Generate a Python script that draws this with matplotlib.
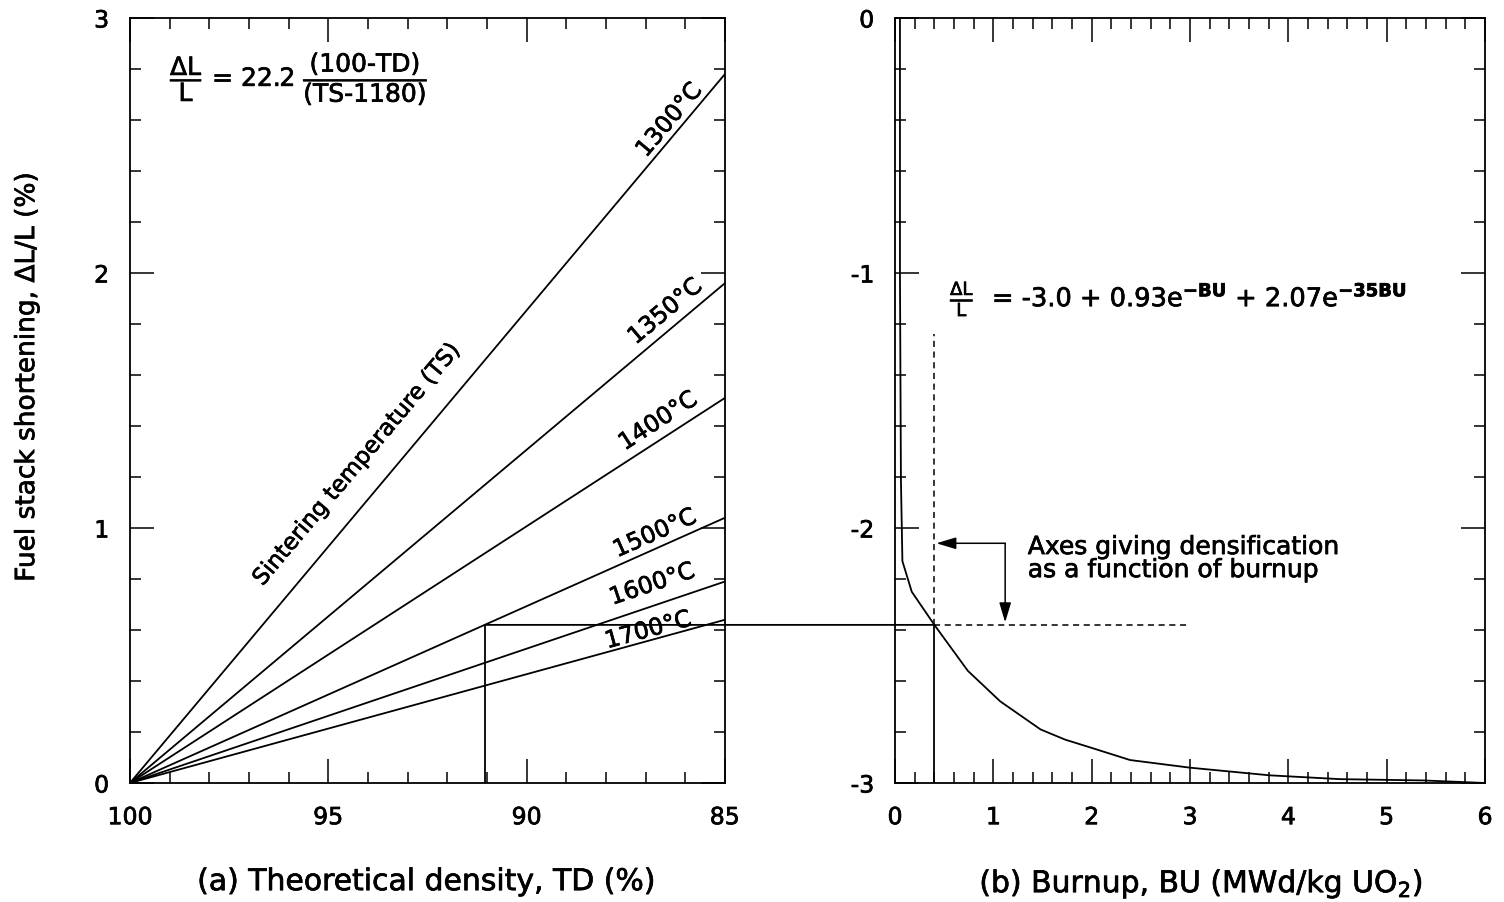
import matplotlib
matplotlib.use("Agg")
import matplotlib.pyplot as plt
import matplotlib.patheffects as pe
from matplotlib.patches import ConnectionPatch
from matplotlib.text import Text
from matplotlib.ticker import MultipleLocator

plt.rcParams['font.family'] = ['DejaVu Sans']
plt.rcParams['mathtext.fontset'] = 'dejavusans'
plt.rcParams['axes.unicode_minus'] = False

# (a) densification vs theoretical density, one straight line per sintering temperature
td_range = [100, 85]
sinter_temps = [1300, 1350, 1400, 1500, 1600, 1700]
shortening_at_85 = [2.78, 1.96, 1.51, 1.04, 0.79, 0.64]

# (b) densification vs burnup
burnup = [0.05, 0.05, 0.06, 0.075, 0.17, 0.40, 0.74, 1.07, 1.48, 1.73, 1.98, 2.39,
          3.0, 3.81, 4.53, 5.37, 6.0]
dl_burnup = [0.0, -1.0, -1.81, -2.13, -2.25, -2.38, -2.56, -2.68, -2.79, -2.83, -2.86,
             -2.91, -2.94, -2.97, -2.985, -2.99, -3.0]

# worked example read across both panels
td_example = 91.05
dl_example = 0.62
bu_example = 0.40
dl_bu_example = -2.38

fig = plt.figure(figsize=(15.04, 9.03), dpi=100)
ax1 = fig.add_axes([0.0864, 0.1318, 0.3956, 0.8472])
ax2 = fig.add_axes([0.5951, 0.1318, 0.3923, 0.8472])

lw = 1.3
for ax in (ax1, ax2):
    for s in ax.spines.values():
        s.set_linewidth(lw)
    ax.tick_params(which='both', direction='in', top=True, right=True,
                   width=1.1, labelsize=17)
    ax.tick_params(which='major', length=17)
    ax.tick_params(which='minor', length=8)
    ax.tick_params(axis='x', pad=16)
    ax.tick_params(axis='y', pad=15)

# panel (a)
for t, end in zip(sinter_temps, shortening_at_85):
    ax1.plot(td_range, [0, end], color='black', lw=lw, solid_capstyle='butt')

ax1.set_xlim(100, 85)
ax1.set_ylim(0, 3)
ax1.xaxis.set_major_locator(MultipleLocator(5))
ax1.xaxis.set_minor_locator(MultipleLocator(1))
ax1.yaxis.set_major_locator(MultipleLocator(1))
ax1.yaxis.set_minor_locator(MultipleLocator(0.2))

# label centres and angles along each line
label_pos = [(86.41, 2.60, 50), (86.51, 1.85, 40), (86.69, 1.42, 33),
             (86.77, 0.98, 24), (86.84, 0.78, 18.7), (86.94, 0.60, 15.3)]
for t, (x, y, rot) in zip(sinter_temps, label_pos):
    ax1.text(x, y, f'{t}°C', rotation=rot, rotation_mode='anchor',
             ha='center', va='center', fontsize=17)
ax1.text(94.28, 1.25, 'Sintering temperature (TS)', rotation=50,
         rotation_mode='anchor', ha='center', va='center', fontsize=16.5)

ax1.text(98.99, 2.76,
         r'$\dfrac{\mathrm{\Delta L}}{\mathrm{L}}$ = 22.2 '
         r'$\dfrac{(\mathrm{100\text{-}TD})}{(\mathrm{TS\text{-}1180})}$',
         fontsize=18, ha='left', va='center')

ax1.plot([td_example, td_example], [0, dl_example], color='black', lw=lw)

ax1.set_ylabel('Fuel stack shortening, ΔL/L (%)', fontsize=19)
ax1.yaxis.set_label_coords(-0.151, 0.531)
ax1.set_xlabel('(a) Theoretical density, TD (%)', fontsize=21.5)
ax1.xaxis.set_label_coords(0.498, -0.110)

# panel (b)
ax2.plot(burnup, dl_burnup, color='black', lw=lw)
ax2.set_xlim(0, 6)
ax2.set_ylim(-3, 0)
ax2.xaxis.set_major_locator(MultipleLocator(1))
ax2.xaxis.set_minor_locator(MultipleLocator(0.2))
ax2.yaxis.set_major_locator(MultipleLocator(1))
ax2.yaxis.set_minor_locator(MultipleLocator(0.2))

ax2.plot([bu_example, bu_example], [-3, dl_bu_example], color='black', lw=lw)
ax2.plot([bu_example, bu_example], [dl_bu_example, -1.24], color='black', lw=1.1,
         ls=(0, (4, 3)))
ax2.plot([bu_example, 3.0], [dl_bu_example, dl_bu_example], color='black', lw=1.1,
         ls=(0, (4, 3)))

# horizontal read-across from panel (a) into panel (b)
con = ConnectionPatch(xyA=(td_example, dl_example), coordsA=ax1.transData,
                      xyB=(bu_example, dl_bu_example), coordsB=ax2.transData,
                      color='black', lw=lw)
fig.add_artist(con)

# elbow arrow pointing at the burnup axes
corner = (1.12, -2.06)
head = dict(arrowstyle='-|>,head_length=0.6,head_width=0.18', mutation_scale=20,
            color='black', lw=1.1, shrinkA=0, shrinkB=0)
ax2.annotate('', xy=(0.42, corner[1]), xytext=corner, arrowprops=head)
ax2.annotate('', xy=(corner[0], -2.37), xytext=corner, arrowprops=head)
ax2.text(1.35, -2.12, 'Axes giving densification\nas a function of burnup',
         fontsize=18, ha='left', va='center', linespacing=0.95)

ax2.text(0.56, -1.10,
         r'$\frac{\mathrm{\Delta L}}{\mathrm{L}}$  = -3.0 + 0.93e$^{\mathbf{-BU}}$'
         r' + 2.07e$^{\mathbf{-35BU}}$',
         fontsize=18.5, ha='left', va='center')

ax2.set_xlabel('(b) Burnup, BU (MWd/kg UO$_2$)', fontsize=21.5)
ax2.xaxis.set_label_coords(0.519, -0.110)

# slightly heavier strokes on all lettering
for t in fig.findobj(Text):
    t.set_path_effects([pe.withStroke(linewidth=0.5, foreground='black')])

fig.savefig('out.png', dpi=100)
